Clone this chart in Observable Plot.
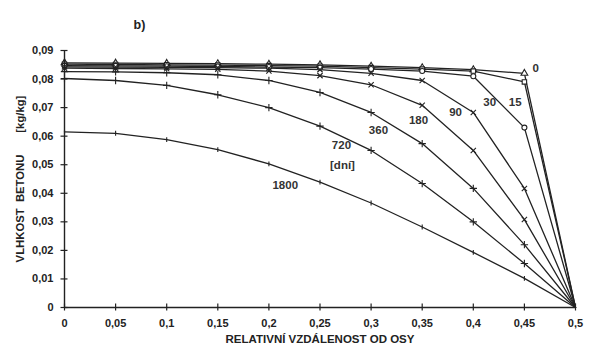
<!DOCTYPE html>
<html><head><meta charset="utf-8">
<script src="https://cdn.jsdelivr.net/npm/d3@7"></script>
<script src="https://cdn.jsdelivr.net/npm/@observablehq/plot@0.6"></script>
<style>body{margin:0;background:#fff} svg{display:block}</style>
</head><body><div id="chart"></div>
<script>
// relative distance from axis
const xPositions = [0, 0.05, 0.1, 0.15, 0.2, 0.25, 0.3, 0.35, 0.4, 0.45, 0.5];
// series (days)
const days = ["0", "15", "30", "90", "180", "360", "720", "1800"];
const moisture0    = [0.0857, 0.0856, 0.0855, 0.0854, 0.0852, 0.0850, 0.0845, 0.0840, 0.0833, 0.0820, 0];
const moisture15   = [0.0852, 0.0851, 0.0850, 0.0849, 0.0847, 0.0845, 0.0840, 0.0835, 0.0828, 0.0790, 0];
const moisture30   = [0.0847, 0.0846, 0.0845, 0.0844, 0.0842, 0.0840, 0.0835, 0.0828, 0.0810, 0.0630, 0];
const moisture90   = [0.0843, 0.0842, 0.0841, 0.0840, 0.0838, 0.0833, 0.0820, 0.0795, 0.0683, 0.0417, 0];
const moisture180  = [0.0838, 0.0837, 0.0836, 0.0834, 0.0828, 0.0812, 0.0780, 0.0708, 0.0550, 0.0308, 0];
const moisture360  = [0.0826, 0.0825, 0.0822, 0.0815, 0.0795, 0.0753, 0.0683, 0.0574, 0.0417, 0.0220, 0];
const moisture720  = [0.0802, 0.0795, 0.0778, 0.0745, 0.0700, 0.0635, 0.0550, 0.0434, 0.0300, 0.0154, 0];
const moisture1800 = [0.0615, 0.0610, 0.0588, 0.0553, 0.0503, 0.0439, 0.0366, 0.0282, 0.0193, 0.0102, 0];
const seriesValues = [moisture0, moisture15, moisture30, moisture90, moisture180, moisture360, moisture720, moisture1800];

// tick labels
const xTicks = [0, 0.05, 0.1, 0.15, 0.2, 0.25, 0.3, 0.35, 0.4, 0.45, 0.5];
const yTicks = [0, 0.01, 0.02, 0.03, 0.04, 0.05, 0.06, 0.07, 0.08, 0.09];

// curve annotations (anchored in data units)
const labelText = ["0", "15", "30", "90", "180", "360", "720", "[dní]", "1800"];
const labelX    = [0.461, 0.441, 0.416, 0.3826, 0.3464, 0.3072, 0.271, 0.272, 0.216];
const labelY    = [0.0837, 0.0718, 0.0718, 0.0683, 0.0655, 0.0620, 0.0567, 0.0497, 0.0427];

const fmt = d => String(d).replace(".", ",");

const rows = [];
days.forEach((d, i) => xPositions.forEach((x, j) => rows.push({days: d, x, y: seriesValues[i][j]})));

const dash = {draw(ctx, size) { const h = Math.sqrt(size) * 0.55; ctx.moveTo(0, -h); ctx.lineTo(0, h); }};
const symbols = {"0": "triangle", "15": "square", "30": "circle", "90": "times", "180": "times", "360": "plus", "720": "plus", "1800": dash};

const labels = labelText.map((t, i) => ({t, x: labelX[i], y: labelY[i]}));

const dotMarks = days.map(d => Plot.dot(rows.filter(r => r.days === d && r.x < 0.5), {
  x: "x", y: "y", symbol: symbols[d], r: 2.5, stroke: "#222", strokeWidth: 1.1, fill: "white"
}));

const chart = Plot.plot({
  width: 593,
  height: 351,
  marginLeft: 64,
  marginRight: 18,
  marginTop: 50,
  marginBottom: 44,
  style: {fontFamily: "Liberation Sans, Arial, sans-serif", fontWeight: "bold", fontSize: "11px", background: "white", color: "#222"},
  x: {domain: [0, 0.5]},
  y: {domain: [0, 0.09]},
  marks: [
    Plot.line(rows, {x: "x", y: "y", z: "days", stroke: "#222", strokeWidth: 1.3}),
    ...dotMarks,
    Plot.ruleX([0], {stroke: "#222", strokeWidth: 1.4}),
    Plot.ruleY([0], {stroke: "#222", strokeWidth: 1.4}),
    // tick marks crossing the axes
    Plot.axisX({ticks: xTicks, tickSize: 7, dy: -3.5, text: null, label: null, stroke: "#222", strokeWidth: 1.2}),
    Plot.axisX({ticks: xTicks, tickSize: 0, tickPadding: 12, tickFormat: fmt, label: null, fontSize: 11}),
    Plot.axisY({ticks: yTicks, tickSize: 7, dx: 3.5, text: null, label: null, stroke: "#222", strokeWidth: 1.2}),
    Plot.axisY({ticks: yTicks, tickSize: 0, tickPadding: 11, tickFormat: fmt, label: null, fontSize: 11}),
    Plot.text(["RELATIVNÍ VZDÁLENOST OD OSY"], {frameAnchor: "bottom", dy: 35, fontSize: 11.5, fontWeight: "bold"}),
    Plot.text(["VLHKOST\u00a0\u00a0BETONU\u00a0\u00a0\u00a0\u00a0\u00a0\u00a0\u00a0[kg/kg]"], {frameAnchor: "left", textAnchor: "middle", dx: -44, rotate: -90, fontSize: 11.3, fontWeight: "bold"}),
    Plot.text(["b)"], {frameAnchor: "top-left", dx: 69, dy: -30, fontSize: 12.5, fontWeight: "bold"}),
    Plot.text(labels, {x: "x", y: "y", text: "t", fontSize: 11.5, fontWeight: "bold", fill: "#333"})
  ]
});
document.getElementById("chart").append(chart);
</script>
</body></html>
